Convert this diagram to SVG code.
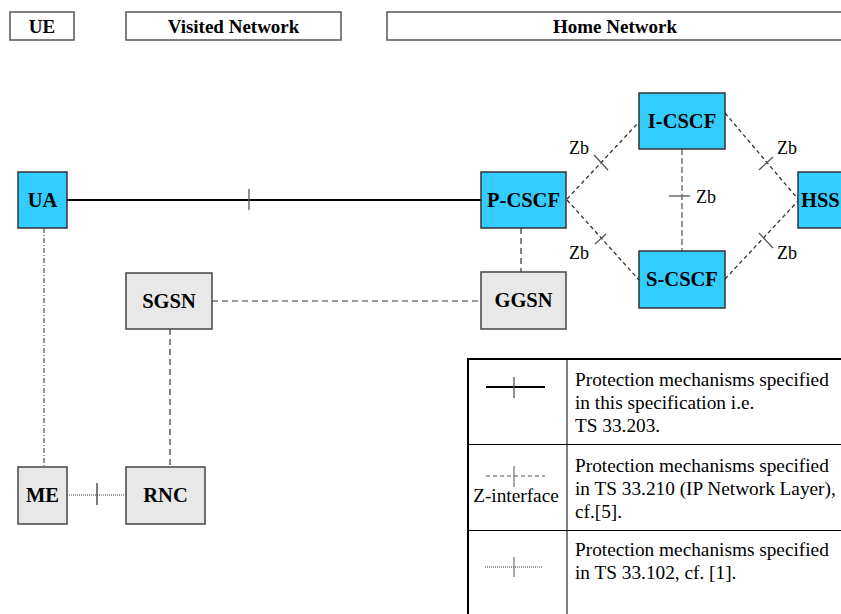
<svg xmlns="http://www.w3.org/2000/svg" width="841" height="614" viewBox="0 0 841 614">
<style>
text{font-family:"Liberation Serif",Tinos,"Times New Roman","DejaVu Serif","Noto Serif",serif}
.hdr{fill:#fff;stroke:#555;stroke-width:1.5}
.hdrt{font-weight:bold;font-size:19px;fill:#000;text-anchor:middle}
.blue{fill:#33ccff;stroke:#333;stroke-width:1.5}
.grey{fill:#e8e8e8;stroke:#444;stroke-width:1.5}
.nt{font-weight:bold;font-size:20.5px;fill:#000;text-anchor:middle}
.zb{font-size:18px;fill:#000}
.lt{font-size:19.3px;fill:#000}
.solid{stroke:#000;stroke-width:2;fill:none}
.dash{stroke:#333;stroke-width:1.3;stroke-dasharray:4,3;fill:none}
.dashg{stroke:#777;stroke-width:1.5;stroke-dasharray:6,3;fill:none}
.dashl{stroke:#333;stroke-width:1.2;stroke-dasharray:6,4;fill:none}
.dashdot{stroke:#555;stroke-width:1.2;stroke-dasharray:5,2,1,2;fill:none}
.dot{stroke:#444;stroke-width:1;stroke-dasharray:1,1;fill:none}
.tick{stroke:#555;stroke-width:1.3;fill:none}
.tickb{stroke:#222;stroke-width:1.2;fill:none}
.tbl{stroke:#000;stroke-width:1;fill:none}
.tblb{stroke:#000;stroke-width:2;fill:none}
</style>

<g id="header-ue"><rect class="hdr" x="10" y="12" width="64" height="28"/><text class="hdrt" x="42" y="33">UE</text></g>
<g id="header-visited"><rect class="hdr" x="126" y="12" width="215" height="28"/><text class="hdrt" x="233.5" y="33">Visited Network</text></g>
<g id="header-home"><rect class="hdr" x="387" y="12" width="470" height="28"/><text class="hdrt" x="615" y="33">Home Network</text></g>

<g id="connectors">
  <line class="solid" x1="67" y1="200" x2="481" y2="200"/>
  <line class="tick" x1="249" y1="189" x2="249" y2="210"/>

  <line class="dash" x1="567" y1="199" x2="639" y2="122"/>
  <line class="tick" x1="594" y1="155" x2="608" y2="170"/>
  <line class="dash" x1="567" y1="200" x2="639" y2="280"/>
  <line class="tick" x1="595" y1="244" x2="606" y2="234"/>
  <line class="dash" x1="725" y1="113" x2="798" y2="199"/>
  <line class="tick" x1="759" y1="170" x2="773" y2="157"/>
  <line class="dash" x1="725" y1="279" x2="798" y2="201"/>
  <line class="tick" x1="759" y1="233" x2="773" y2="248"/>
  <line class="dashg" x1="682" y1="149" x2="682" y2="251"/>
  <line class="tick" x1="669" y1="196" x2="690" y2="196"/>

  <line class="dashl" x1="521" y1="228" x2="521" y2="272"/>
  <line class="dashl" x1="212" y1="301" x2="481" y2="301"/>
  <line class="dashl" x1="170" y1="329" x2="170" y2="467"/>
  <line class="dashdot" x1="44" y1="228" x2="44" y2="467"/>
  <line class="dot" x1="67" y1="495" x2="126" y2="495"/>
  <line class="tickb" x1="97" y1="483" x2="97" y2="505"/>

  <text class="zb" x="569" y="154">Zb</text>
  <text class="zb" x="569" y="259">Zb</text>
  <text class="zb" x="777" y="154">Zb</text>
  <text class="zb" x="777" y="259">Zb</text>
  <text class="zb" x="696" y="203">Zb</text>
</g>

<g id="node-ua"><rect class="blue" x="18" y="172" width="49" height="56"/><text class="nt" x="42.5" y="207">UA</text></g>
<g id="node-pcscf"><rect class="blue" x="481" y="172" width="85" height="56"/><text class="nt" x="523.5" y="207">P-CSCF</text></g>
<g id="node-icscf"><rect class="blue" x="639" y="93" width="86" height="56"/><text class="nt" x="682" y="128">I-CSCF</text></g>
<g id="node-scscf"><rect class="blue" x="639" y="251" width="86" height="57"/><text class="nt" x="682" y="286">S-CSCF</text></g>
<g id="node-hss"><rect class="blue" x="798" y="172" width="60" height="56"/><text class="nt" x="801" y="207" style="text-anchor:start">HSS</text></g>
<g id="node-ggsn"><rect class="grey" x="481" y="272" width="85" height="57"/><text class="nt" x="523.5" y="307">GGSN</text></g>
<g id="node-sgsn"><rect class="grey" x="126" y="273" width="86" height="56"/><text class="nt" x="169" y="308">SGSN</text></g>
<g id="node-rnc"><rect class="grey" x="126" y="467" width="79" height="57"/><text class="nt" x="165.5" y="502">RNC</text></g>
<g id="node-me"><rect class="grey" x="18" y="467" width="49" height="57"/><text class="nt" x="42.5" y="502">ME</text></g>

<g id="legend">
  <line class="tblb" x1="468" y1="359" x2="468" y2="614"/>
  <line class="tblb" x1="467" y1="359" x2="841" y2="359"/>
  <line class="tbl" x1="567" y1="359" x2="567" y2="614"/>
  <line class="tbl" x1="468" y1="444.5" x2="841" y2="444.5"/>
  <line class="tbl" x1="468" y1="530.5" x2="841" y2="530.5"/>

  <line class="solid" x1="486" y1="387" x2="545" y2="387"/>
  <line class="tick" x1="514" y1="377" x2="514" y2="398"/>
  <text class="lt" x="575" y="386">Protection mechanisms specified</text>
  <text class="lt" x="575" y="409">in this specification i.e.</text>
  <text class="lt" x="575" y="432">TS 33.203.</text>

  <line class="dash" x1="486" y1="476" x2="545" y2="476" style="stroke:#555;stroke-width:1"/>
  <line class="tick" x1="514" y1="466" x2="514" y2="487" style="stroke-width:1"/>
  <text class="lt" x="516" y="502" style="text-anchor:middle">Z-interface</text>
  <text class="lt" x="575" y="472">Protection mechanisms specified</text>
  <text class="lt" x="575" y="495">in TS 33.210 (IP Network Layer),</text>
  <text class="lt" x="575" y="518">cf.[5].</text>

  <line class="dot" x1="485" y1="567" x2="543" y2="567"/>
  <line class="tick" x1="514" y1="557" x2="514" y2="577" style="stroke-width:1"/>
  <text class="lt" x="575" y="556">Protection mechanisms specified</text>
  <text class="lt" x="575" y="579">in TS 33.102, cf. [1].</text>
</g>
</svg>
